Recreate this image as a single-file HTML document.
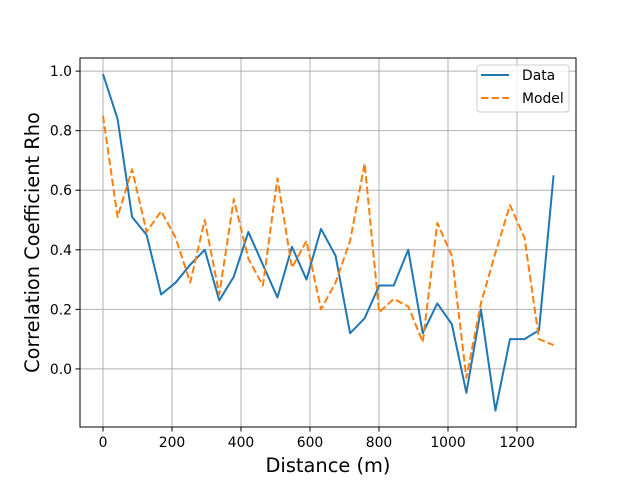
<!DOCTYPE html>
<html><head><meta charset="utf-8"><style>
body{margin:0;background:#fff;font-family:"Liberation Sans","DejaVu Sans",sans-serif}
svg text{font-family:"DejaVu Sans","Liberation Sans",sans-serif}
</style></head><body>
<svg id="chart" width="640" height="480"></svg>
<script>
const dataValues=[0.99,0.84,0.51,0.45,0.25,0.29,0.35,0.40,0.23,0.31,0.46,0.35,0.24,0.41,0.30,0.47,0.38,0.12,0.17,0.28,0.28,0.40,0.12,0.22,0.15,-0.08,0.20,-0.14,0.10,0.10,0.13,0.65];
const modelValues=[0.85,0.51,0.67,0.46,0.53,0.44,0.29,0.50,0.25,0.57,0.37,0.28,0.64,0.34,0.43,0.20,0.29,0.43,0.69,0.19,0.235,0.21,0.09,0.49,0.38,-0.03,0.22,0.39,0.55,0.44,0.10,0.08];
const maxDistance=1306;
const xTicks=[0,200,400,600,800,1000,1200];
const yTicks=[0.0,0.2,0.4,0.6,0.8,1.0];
const NS="http://www.w3.org/2000/svg";
const svg=document.getElementById('chart');
const L=80,R=576,T=58,B=427;
const xMin=-66.7,xMax=1371,yMin=-0.195,yMax=1.044;
const sx=v=>L+(v-xMin)/(xMax-xMin)*(R-L);
const sy=v=>B-(v-yMin)/(yMax-yMin)*(B-T);
function mk(tag,attrs,parent){const e=document.createElementNS(NS,tag);for(const k in attrs)e.setAttribute(k,attrs[k]);(parent||svg).appendChild(e);return e;}
xTicks.forEach(t=>{const g=mk('line',{x1:sx(t),x2:sx(t),y1:T,y2:B,stroke:'#b0b0b0','stroke-width':1});

const tk=mk('line',{x1:sx(t),x2:sx(t),y1:B,y2:B+4.5,stroke:'#000','stroke-width':1});

const tx=mk('text',{x:sx(t),y:B+20,'text-anchor':'middle','font-size':13.9});tx.textContent=t;
});
yTicks.forEach(t=>{const g=mk('line',{x1:L,x2:R,y1:sy(t),y2:sy(t),stroke:'#b0b0b0','stroke-width':1});

const tk=mk('line',{x1:L-4.5,x2:L,y1:sy(t),y2:sy(t),stroke:'#000','stroke-width':1});

const tx=mk('text',{x:L-8,y:sy(t)+5,'text-anchor':'end','font-size':13.9});tx.textContent=t.toFixed(1);
});
function xs(i,n){return maxDistance*i/(n-1);}
const pd=dataValues.map((v,i)=>sx(xs(i,dataValues.length))+','+sy(v)).join(' ');
const l1=mk('polyline',{points:pd,fill:'none',stroke:'#1f77b4','stroke-width':2,'stroke-linejoin':'round'});

const pm=modelValues.map((v,i)=>sx(xs(i,modelValues.length))+','+sy(v)).join(' ');
const l2=mk('polyline',{points:pm,fill:'none',stroke:'#ff7f0e','stroke-width':2,'stroke-dasharray':'7.4,3.2','stroke-linejoin':'round'});

const fr=mk('rect',{x:L,y:T,width:R-L,height:B-T,fill:'none',stroke:'#000','stroke-width':1});

const xt=mk('text',{x:(L+R)/2,y:472,'text-anchor':'middle','font-size':19.4});xt.textContent='Distance (m)';

const yt=mk('text',{x:0,y:0,'text-anchor':'middle','font-size':19.4,transform:`translate(39,${(T+B)/2}) rotate(-90)`});yt.textContent='Correlation Coefficient Rho';

const lg=mk('g',{});
mk('rect',{x:477,y:65,width:92,height:47,rx:3,fill:'#fff','fill-opacity':0.8,stroke:'#ccc'},lg);
const e1=mk('g',{},lg);
mk('line',{x1:481,x2:509,y1:75,y2:75,stroke:'#1f77b4','stroke-width':2},e1);
const t1=mk('text',{x:522,y:80,'font-size':13.9},e1);t1.textContent='Data';
const e2=mk('g',{},lg);
mk('line',{x1:481,x2:509,y1:98,y2:98,stroke:'#ff7f0e','stroke-width':2,'stroke-dasharray':'7.4,3.2'},e2);
const t2=mk('text',{x:522,y:103,'font-size':13.9},e2);t2.textContent='Model';
</script>
</body></html>
